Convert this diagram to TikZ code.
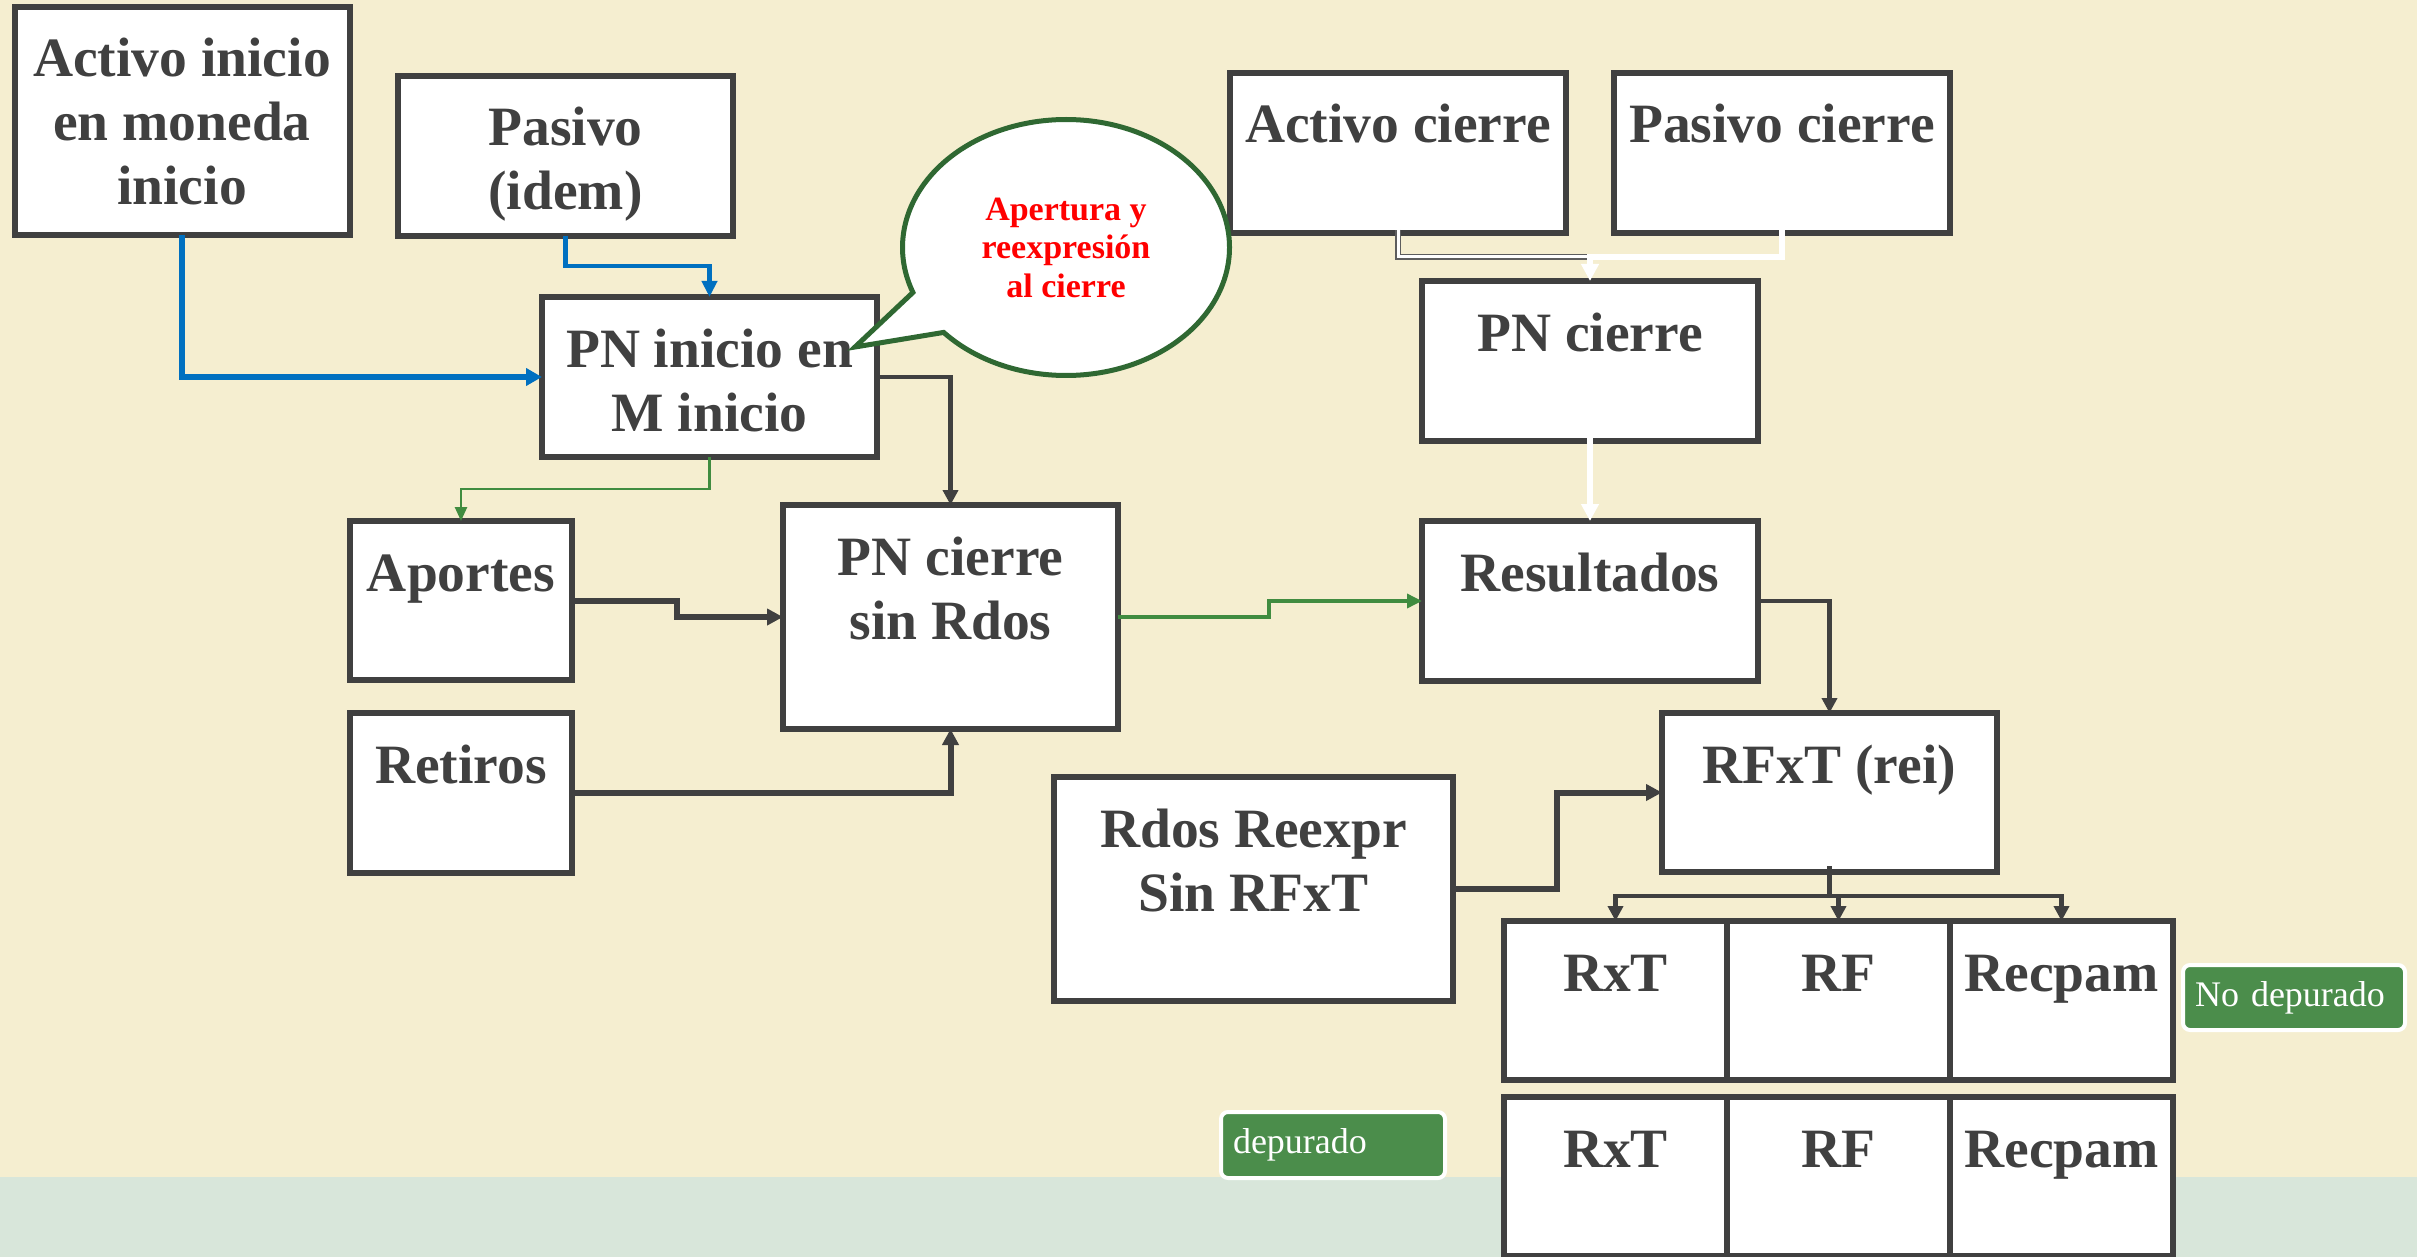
\documentclass[tikz,border=0pt]{standalone}
\usepackage{fontspec}
\setmainfont{Liberation Serif}
\usetikzlibrary{arrows.meta,shapes.callouts,calc}
\definecolor{cream}{RGB}{245,238,208}
\definecolor{stripc}{RGB}{216,230,218}
\definecolor{boxgray}{RGB}{64,64,64}
\definecolor{arrblue}{RGB}{0,112,192}
\definecolor{arrgreen}{RGB}{64,140,64}
\definecolor{callgreen}{RGB}{47,104,50}
\definecolor{taggreen}{RGB}{75,141,75}
\begin{document}
\begin{tikzpicture}[x=1pt,y=-1pt,
  box/.style={draw=boxgray, line width=6pt, fill=white, inner sep=0pt, outer sep=0pt,
              minimum width=335pt, minimum height=160pt},
  lbl/.style={font=\bfseries\fontsize{55.5}{64}\selectfont, text=boxgray, align=center,
              inner sep=0pt, anchor=north},
  dk/.style={draw=boxgray, line width=6pt, -{Triangle[length=16pt,width=16pt]}},
  dkthin/.style={draw=boxgray, line width=4.5pt, -{Triangle[length=15pt,width=15pt]}},
  bl/.style={draw=arrblue, line width=6pt, -{Triangle[length=16pt,width=17pt]}},
  blthin/.style={draw=arrblue, line width=4.5pt, -{Triangle[length=16pt,width=15pt]}},
  gr/.style={draw=arrgreen, line width=3.5pt, -{Triangle[length=15pt,width=14pt]}},
  grthin/.style={draw=arrgreen, line width=2.5pt, -{Triangle[length=14pt,width=12pt]}},
  wl/.style={draw=white, line width=6pt, -{Triangle[length=17pt,width=17pt]}},
  dbl/.style={draw=boxgray!85, double=white, line width=1.5pt, double distance=3pt},
  tag/.style={fill=taggreen, draw=white, line width=4pt, rounded corners=7pt, text=white,
              font=\fontsize{36}{40}\selectfont, inner xsep=12pt, inner ysep=0pt, align=left}
]
\useasboundingbox (0,0) rectangle (2417,1257);
\clip (0,0) rectangle (2417,1257);
% background
\fill[cream] (0,0) rectangle (2417,1257);
\fill[stripc] (0,1177) rectangle (2417,1257);

% boxes
\node[box, minimum height=228pt] (actI) at (182,121) {};
\node[box] (pasI) at (565.5,156) {};
\node[box] (pnI) at (709.5,377) {};
\node[box, minimum width=336pt] (actC) at (1398,153) {};
\node[box, minimum width=336pt] (pasC) at (1782,153) {};
\node[box, minimum width=336pt] (pnC) at (1590,361) {};
\node[box, minimum width=336pt] (res) at (1590,601) {};
\node[box, minimum width=222pt, minimum height=159pt] (apo) at (461,600.5) {};
\node[box, minimum width=222pt] (ret) at (461,793) {};
\node[box, minimum height=224pt] (pnS) at (950.5,617) {};
\node[box, minimum width=399pt, minimum height=224pt] (rdo) at (1253.5,889) {};
\node[box, minimum height=159pt] (rfx) at (1829.5,792.5) {};
\node[box, minimum width=223pt, minimum height=159pt] (c11) at (1615.5,1000.5) {};
\node[box, minimum width=223pt, minimum height=159pt] (c12) at (1838.5,1000.5) {};
\node[box, minimum width=223pt, minimum height=159pt] (c13) at (2061.5,1000.5) {};
\node[box, minimum width=223pt, minimum height=159pt] (c21) at (1615.5,1176.5) {};
\node[box, minimum width=223pt, minimum height=159pt] (c22) at (1838.5,1176.5) {};
\node[box, minimum width=223pt, minimum height=159pt] (c23) at (2061.5,1176.5) {};

% labels
\node[lbl] (actIt) at ($(actI.north)+(0,25)$) {\strut Activo inicio\\en moneda\\inicio};
\node[lbl] (pasIt) at ($(pasI.north)+(0,25)$) {\strut Pasivo\\(idem)};
\node[lbl] (pnIt) at ($(pnI.north)+(0,25)$) {\strut PN inicio en\\M inicio};
\node[lbl] (actCt) at ($(actC.north)+(0,25)$) {\strut Activo cierre};
\node[lbl] (pasCt) at ($(pasC.north)+(0,25)$) {\strut Pasivo cierre};
\node[lbl] (pnCt) at ($(pnC.north)+(0,25)$) {\strut PN cierre};
\node[lbl] (rest) at ($(res.north)+(0,25)$) {\strut Resultados};
\node[lbl] (apot) at ($(apo.north)+(0,25)$) {\strut Aportes};
\node[lbl] (rett) at ($(ret.north)+(0,25)$) {\strut Retiros};
\node[lbl] (pnSt) at ($(pnS.north)+(0,25)$) {\strut PN cierre\\sin Rdos};
\node[lbl] (rdot) at ($(rdo.north)+(0,25)$) {\strut Rdos Reexpr\\Sin RFxT};
\node[lbl] (rfxt) at ($(rfx.north)+(0,25)$) {\strut RFxT (rei)};
\node[lbl] (c11t) at ($(c11.north)+(0,25)$) {\strut RxT};
\node[lbl] (c12t) at ($(c12.north)+(0,25)$) {\strut RF};
\node[lbl] (c13t) at ($(c13.north)+(0,25)$) {\strut Recpam};
\node[lbl] (c21t) at ($(c21.north)+(0,25)$) {\strut RxT};
\node[lbl] (c22t) at ($(c22.north)+(0,25)$) {\strut RF};
\node[lbl] (c23t) at ($(c23.north)+(0,25)$) {\strut Recpam};

% callout
\node[ellipse callout, draw=callgreen, line width=5pt, fill=white,
      minimum width=327pt, minimum height=256pt, inner sep=0pt,
      callout absolute pointer={(855,347)}, callout pointer arc=21,
      font=\bfseries\fontsize{34}{38.5}\selectfont, text=red, align=center]
      (call) at (1066,247.5) {Apertura y\\reexpresión\\al cierre};

% tags
\node[tag, minimum height=65pt, text width=198pt] (tnd) at (2294,997.5) {No depurado};
\node[tag, minimum height=66pt, text width=200pt] (tdp) at (1333,1145) {depurado};

% connectors
\draw[bl] (actI.south) |- (pnI.west);
\draw[blthin] (pasI.south) -- ++(0,30) -| (pnI.north);
\draw[dkthin] (pnI.east) -| (pnS.north);
\draw[grthin] (pnI.south) -- ++(0,32) -| (apo.north);
\draw[dk] (apo.east) -- ++(105,0) |- (pnS.west);
\draw[dk] (ret.east) -| (pnS.south);
\draw[gr] (pnS.east) -- ++(151,0) |- (res.west);
\coordinate (jc) at (1590,257);
\draw[dbl] ($(actC.south)+(0,-3)$) |- (jc);
\draw[wl] ($(pasC.south)+(0,-3)$) |- (jc) -- (pnC.north);
\draw[wl] ($(pnC.south)+(0,-3)$) -- (res.north);
\draw[dkthin] (res.east) -| (rfx.north);
\draw[dk] (rdo.east) -- ++(104,0) |- (rfx.west);
\draw[dkthin] ($(rfx.south)+(0,-6)$) -- ++(0,30) -| (c11.north);
\draw[dkthin] ($(rfx.south)+(0,-6)$) -- ++(0,30) -| (c12.north);
\draw[dkthin] ($(rfx.south)+(0,-6)$) -- ++(0,30) -| (c13.north);
\end{tikzpicture}
\end{document}
